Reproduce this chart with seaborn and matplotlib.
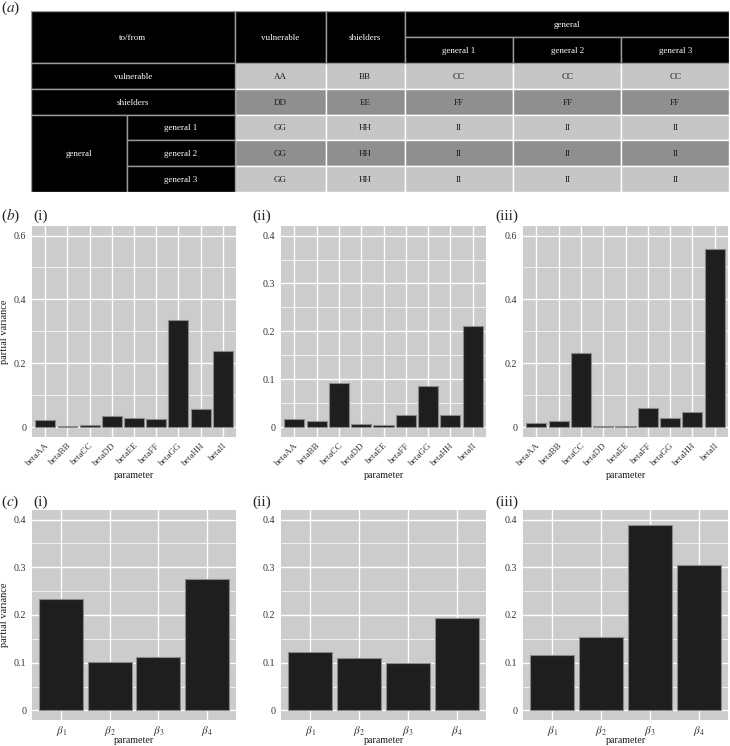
import matplotlib
matplotlib.use("Agg")
import matplotlib.pyplot as plt
import seaborn as sns
import pandas as pd
from matplotlib.patches import Rectangle
from matplotlib.ticker import MultipleLocator, FuncFormatter

# ---- table (a) ----
corner = "to/from"
col_group = "general"
col_labels = ["vulnerable", "shielders", "general 1", "general 2", "general 3"]
row_group = "general"
row_labels = ["vulnerable", "shielders", "general 1", "general 2", "general 3"]
cells = [
    ["AA", "BB", "CC", "CC", "CC"],
    ["DD", "EE", "FF", "FF", "FF"],
    ["GG", "HH", "II", "II", "II"],
    ["GG", "HH", "II", "II", "II"],
    ["GG", "HH", "II", "II", "II"],
]

# ---- bar panels (b) ----
params_b = ["betaAA", "betaBB", "betaCC", "betaDD", "betaEE",
            "betaFF", "betaGG", "betaHH", "betaII"]
b1 = [0.022, 0.003, 0.005, 0.035, 0.028, 0.025, 0.334, 0.058, 0.238]
b2 = [0.017, 0.013, 0.092, 0.006, 0.004, 0.026, 0.086, 0.025, 0.212]
b3 = [0.013, 0.020, 0.231, 0.002, 0.002, 0.061, 0.028, 0.046, 0.557]

# ---- bar panels (c) ----
params_c = [r"$\beta_1$", r"$\beta_2$", r"$\beta_3$", r"$\beta_4$"]
c1 = [0.233, 0.102, 0.113, 0.276]
c2 = [0.123, 0.110, 0.100, 0.193]
c3 = [0.117, 0.153, 0.388, 0.305]

sns.set_style("darkgrid")
plt.rcParams["font.family"] = ["Liberation Serif", "DejaVu Serif"]
plt.rcParams["mathtext.fontset"] = "stix"

W, H = 730, 746
fig = plt.figure(figsize=(W / 100, H / 100), dpi=100)

PANEL = "#cccccc"
LIGHT = "#c6c6c6"
DARK = "#8f8f8f"
TXT = "#333333"


def place(x0, y0, x1, y1):
    return fig.add_axes([x0 / W, 1 - y1 / H, (x1 - x0) / W, (y1 - y0) / H])


def draw_table():
    xs = [30.7, 127, 235, 325.7, 404.7, 513.3, 621.3, 729]
    ys = [11.3, 37.3, 62.7, 88.7, 114.7, 140.3, 166.3, 192.3]
    ax = place(xs[0], ys[0], xs[-1], ys[-1])
    ax.set_xlim(xs[0], xs[-1])
    ax.set_ylim(ys[-1], ys[0])
    ax.axis("off")

    def cell(x0, x1, y0, y1, text, face, edge, tcolor):
        ax.add_patch(Rectangle((x0, y0), x1 - x0, y1 - y0, facecolor=face,
                               edgecolor=edge, linewidth=1.0))
        ax.text((x0 + x1) / 2, (y0 + y1) / 2 + 1, text, ha="center",
                va="center", fontsize=6.5, color=tcolor)

    # data cells
    for i, row in enumerate(cells):
        face = LIGHT if i % 2 == 0 else DARK
        for j, v in enumerate(row):
            cell(xs[j + 2], xs[j + 3], ys[i + 2], ys[i + 3], v, face,
                 "white", "#1a1a1a")
    edge = "#9a9a9a"
    # header
    cell(xs[0], xs[2], ys[0], ys[2], corner, "black", edge, "white")
    cell(xs[2], xs[3], ys[0], ys[2], col_labels[0], "black", edge, "white")
    cell(xs[3], xs[4], ys[0], ys[2], col_labels[1], "black", edge, "white")
    cell(xs[4], xs[7], ys[0], ys[1], col_group, "black", edge, "white")
    for j in range(3):
        cell(xs[4 + j], xs[5 + j], ys[1], ys[2], col_labels[2 + j],
             "black", edge, "white")
    # row labels
    cell(xs[0], xs[2], ys[2], ys[3], row_labels[0], "black", edge, "white")
    cell(xs[0], xs[2], ys[3], ys[4], row_labels[1], "black", edge, "white")
    cell(xs[0], xs[1], ys[4], ys[7], row_group, "black", edge, "white")
    for i in range(3):
        cell(xs[1], xs[2], ys[4 + i], ys[5 + i], row_labels[2 + i],
             "black", edge, "white")


def fmt(v, pos):
    return "0" if abs(v) < 1e-9 else f"{v:g}"


def bar_panel(ax, labels, values, ymax, step, rotate, ylabel, xlab_y):
    df = pd.DataFrame({"parameter": labels, "partial variance": values})
    sns.barplot(df, x="parameter", y="partial variance", ax=ax,
                color="#1e1e1e", edgecolor="#8a8a8a", linewidth=0.8,
                width=0.9, saturation=1)
    n = len(labels)
    ax.set_facecolor(PANEL)
    ax.set_xlim(-0.6, n - 0.4)
    ax.set_ylim(-0.05 * ymax, 1.05 * ymax)
    ax.yaxis.set_major_locator(MultipleLocator(step))
    ax.yaxis.set_minor_locator(MultipleLocator(step / 2))
    ax.yaxis.set_major_formatter(FuncFormatter(fmt))
    ax.grid(which="major", axis="both", color="white", linewidth=1.0)
    ax.grid(which="minor", axis="y", color="white", linewidth=0.5)
    ax.set_axisbelow(True)
    for s in ax.spines.values():
        s.set_visible(False)
    ax.tick_params(which="major", length=2.5, width=0.6, color=TXT,
                   labelcolor=TXT, labelsize=7.2, pad=1.5)
    ax.tick_params(which="minor", length=0)
    if rotate:
        ax.tick_params(axis="x", labelsize=6.6, pad=1)
        plt.setp(ax.get_xticklabels(), rotation=45, ha="right",
                 rotation_mode="anchor")
    else:
        ax.tick_params(axis="x", labelsize=8, pad=0.5)
    ax.set_xlabel("parameter", fontsize=7.2, color="#1a1a1a")
    ax.xaxis.set_label_coords(0.5, xlab_y)
    if ylabel:
        ax.set_ylabel("partial variance", fontsize=7.5, color="#1a1a1a")
        ax.yaxis.set_label_coords(-0.115, 0.5)
    else:
        ax.set_ylabel("")


draw_table()

xcols = [(32, 236), (281, 486), (523, 728)]
b_data = [(b1, 0.6, 0.2), (b2, 0.4, 0.1), (b3, 0.6, 0.2)]
c_data = [c1, c2, c3]

for k, (x0, x1) in enumerate(xcols):
    vals, ymax, step = b_data[k]
    ax = place(x0, 226, x1, 436.6)
    bar_panel(ax, params_b, vals, ymax, step, True, k == 0, -0.165)
    ax = place(x0, 510, x1, 720)
    bar_panel(ax, params_c, c_data[k], 0.4, 0.1, False, k == 0, -0.076)

# panel labels (pixel coordinates)
for lab, y in zip(["a", "b", "c"], [8, 216, 502]):
    fig.text(1, H - y, r"($%s$)" % lab, fontsize=11, va="center",
             ha="left", transform=None)
for lab, x in zip(["(i)", "(ii)", "(iii)"], [33, 252, 495]):
    for y in [216, 502]:
        fig.text(x, H - y, lab, fontsize=11, va="center", ha="left",
                 transform=None)

fig.savefig("out.png", dpi=100)
